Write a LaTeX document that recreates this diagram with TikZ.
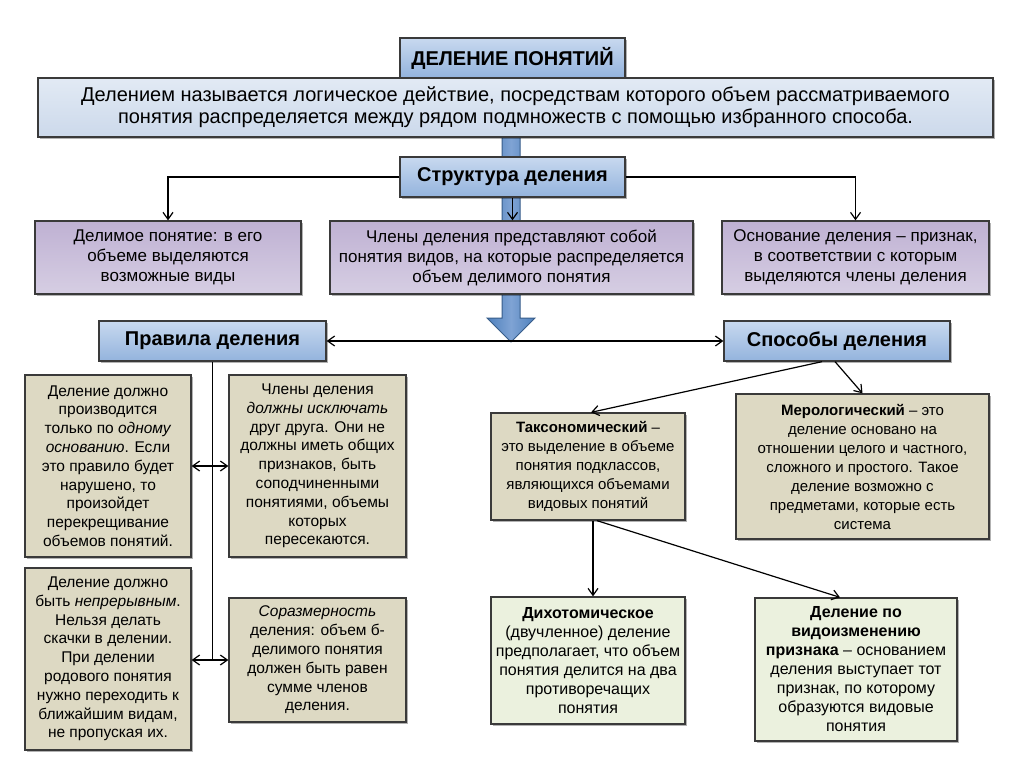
\documentclass[tikz,border=0pt]{standalone}
\usepackage{fontspec}
\setmainfont{Liberation Sans}
\usetikzlibrary{shadows,arrows.meta,calc}
\definecolor{bluetop}{HTML}{C8D9EF}
\definecolor{bluebot}{HTML}{93B3DD}
\definecolor{deftop}{HTML}{E2EAF4}
\definecolor{defbot}{HTML}{CCD9EB}
\definecolor{purtop}{HTML}{BFB1D3}
\definecolor{purbot}{HTML}{D6CEE3}
\definecolor{beige}{HTML}{DDD9C3}
\definecolor{greenbox}{HTML}{EBF1DE}
\definecolor{arrowblue}{HTML}{4F81BD}
\definecolor{arrowlight}{HTML}{7FA3D4}
\definecolor{arrowedge}{HTML}{385D8A}
\definecolor{edge}{HTML}{3A3A3A}
\begin{document}
\begin{tikzpicture}[x=1pt,y=-1pt,
  box/.style={draw=edge, line width=1.3pt, align=center, inner sep=2pt,
    drop shadow={shadow xshift=2pt, shadow yshift=-2pt, opacity=0.3, fill=black}},
  wh/.style 2 args={minimum width=#1pt, minimum height=#2pt},
  headbox/.style={box, top color=bluetop, bottom color=bluebot},
  defbox/.style={box, top color=deftop, bottom color=defbot},
  purbox/.style={box, top color=purtop, bottom color=purbot,
    font=\fontsize{17}{20}\selectfont},
  beigebox/.style={box, fill=beige, font=\fontsize{15.5}{18.8}\selectfont},
  beigesm/.style={box, fill=beige, font=\fontsize{15}{19}\selectfont},
  greenbox/.style={box, fill=greenbox, font=\fontsize{16}{19}\selectfont},
  conn/.style={draw=black, line width=1.2pt, -{Straight Barb[length=7pt,width=10pt,line width=1.2pt]}},
  conn2/.style={draw=black, line width=1.2pt, {Straight Barb[length=7pt,width=10pt,line width=1.2pt]}-{Straight Barb[length=7pt,width=10pt,line width=1.2pt]}},
  line/.style={draw=black, line width=1.2pt}
]
\useasboundingbox (0,0) rectangle (1024,767);
\fill[white] (0,0) rectangle (1024,767);

% big blue arrow (behind everything)
\path[draw=arrowedge, line width=1pt, left color=arrowblue, right color=arrowblue, middle color=arrowlight]
  (502,137) -- (520,137) -- (520,318) -- (535,318) -- (511,342) -- (487,318) -- (502,318) -- cycle;

% header and definition
\node[headbox, wh={225}{40}, font=\bfseries\fontsize{20}{22}\selectfont] (title) at (512.5,58) {ДЕЛЕНИЕ ПОНЯТИЙ};
\node[defbox, wh={955}{59}, font=\fontsize{20}{22}\selectfont] (def) at (515.5,107.5)
  {Делением называется логическое действие, посредствам которого объем рассматриваемого\\
   понятия распределяется между рядом подмножеств с помощью избранного способа.};

% structure
\node[headbox, wh={225}{40}, font=\bfseries\fontsize{20}{22}\selectfont] (struct) at (512.5,177) {Структура деления};
\node[purbox, wh={266}{73}] (p1) at (168,257.5) {Делимое понятие: в его\\ объеме выделяются\\ возможные виды};
\node[purbox, wh={363}{73}] (p2) at (511.5,257.5) {Члены деления представляют собой\\ понятия видов, на которые распределяется\\ объем делимого понятия};
\node[purbox, wh={267}{73}] (p3) at (855.5,257.5) {Основание деления – признак,\\ в соответствии с которым\\ выделяются члены деления};

\draw[conn] (struct.west) -| (p1.north);
\draw[conn] (struct.east) -| (p3.north);
\draw[conn] (struct.south) -- (struct.south |- p2.north);

% rules and ways
\node[headbox, wh={227}{40}, font=\bfseries\fontsize{20}{22}\selectfont] (rules) at (212.5,341) {Правила деления};
\node[headbox, wh={226}{40}, font=\bfseries\fontsize{20}{22}\selectfont] (ways) at (837,341) {Способы деления};
\draw[conn2] (rules.east) -- (ways.west);

% rule boxes
\node[beigebox, wh={166}{182}] (r1) at (108,466) {Деление должно\\ производится\\ только по \textit{одному}\\ \textit{основанию}. Если\\ это правило будет\\ нарушено, то\\ произойдет\\ перекрещивание\\ объемов понятий.};
\node[beigebox, wh={177}{182}] (r2) at (317.5,466) {Члены деления\\ \textit{должны исключать}\\ друг друга. Они не\\ должны иметь общих\\ признаков, быть\\ соподчиненными\\ понятиями, объемы\\ которых\\ пересекаются.};
\node[beigebox, wh={166}{182}] (r3) at (108,659) {Деление должно\\ быть \textit{непрерывным}.\\ Нельзя делать\\ скачки в делении.\\ При делении\\ родового понятия\\ нужно переходить к\\ ближайшим видам,\\ не пропуская их.};
\node[beigebox, wh={177}{124}] (r4) at (317.5,660) {\textit{Соразмерность}\\ деления: объем б-\\ делимого понятия\\ должен быть равен\\ сумме членов\\ деления.};

\coordinate (vend) at (rules.south |- r4.west);
\draw[line] (rules.south) -- (vend);
\draw[conn2] (r1.east) -- (r2.west);
\draw[conn2] (r4.west -| r3.east) -- (r4.west);

% ways boxes
\node[beigesm, wh={194}{107}] (tax) at (588,466.5) {\textbf{Таксономический} –\\ это выделение в объеме\\ понятия подклассов,\\ являющихся объемами\\ видовых понятий};
\node[beigesm, wh={253}{145}] (mero) at (862.5,466.5) {\textbf{Мерологический} – это\\ деление основано на\\ отношении целого и частного,\\ сложного и простого. Такое\\ деление возможно с\\ предметами, которые есть\\ система};
\node[greenbox, wh={194}{127}] (dich) at (588,660.5) {\textbf{Дихотомическое}\\ (двучленное) деление\\ предполагает, что объем\\ понятия делится на два\\ противоречащих\\ понятия};
\node[greenbox, wh={202}{143}] (vid) at (856,669.5) {\textbf{Деление по}\\ \textbf{видоизменению}\\ \textbf{признака} – основанием\\ деления выступает тот\\ признак, по которому\\ образуются видовые\\ понятия};

\draw[conn] ($(ways.south)+(-15,0)$) -- ($(tax.north)+(3,0)$);
\draw[conn] ($(ways.south)+(-2,0)$) -- (mero.north);
\draw[conn] ($(tax.south)+(5,0)$) -- ($(dich.north)+(5,0)$);
\draw[conn] ($(tax.south)+(9,0)$) -- ($(vid.north)+(-16,0)$);
\end{tikzpicture}
\end{document}
